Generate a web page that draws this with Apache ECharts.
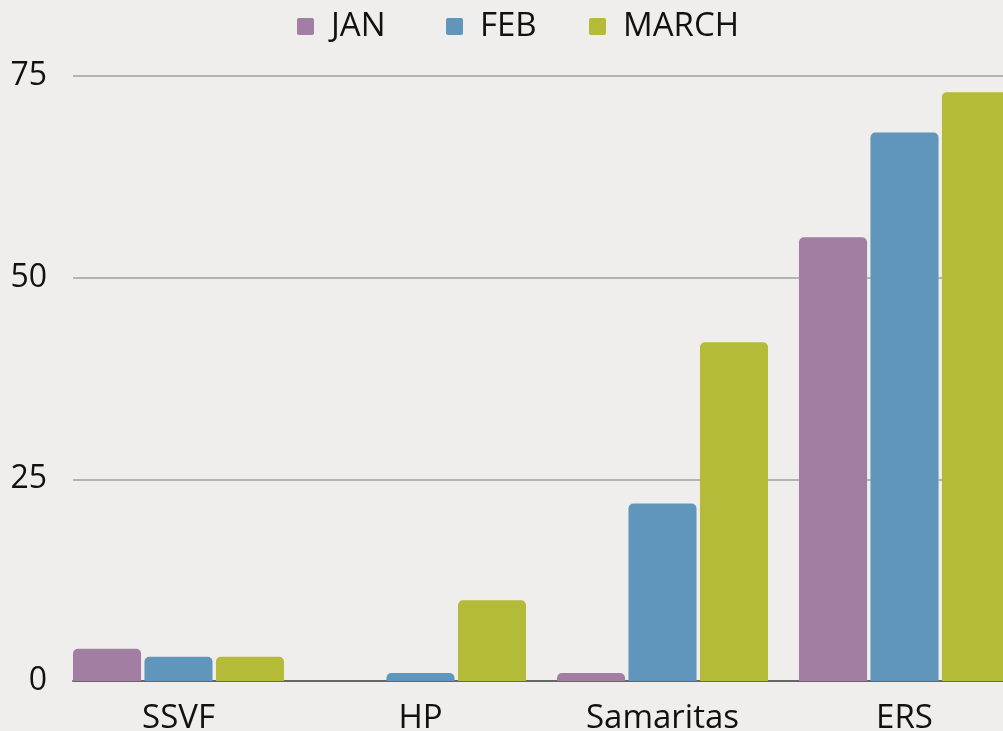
<!DOCTYPE html>
<html>
<head>
<meta charset="utf-8">
<script src="https://cdn.jsdelivr.net/npm/echarts@6/dist/echarts.min.js"></script>
<style>
html,body{margin:0;padding:0;background:#efeeec;}
#c{width:1003px;height:731px;}
</style>
</head>
<body>
<div id="c"></div>
<script>
const categories = ['SSVF', 'HP', 'Samaritas', 'ERS'];
const seriesNames = ['JAN', 'FEB', 'MARCH'];
const janValues = [4, 0, 1, 55];
const febValues = [3, 1, 22, 68];
const marchValues = [3, 10, 42, 73];
const yTicks = [0, 25, 50, 75];

const colors = ['#a27fa2', '#6096bb', '#b4bb38'];
const FONT = '"Open Sans", sans-serif';
const chart = echarts.init(document.getElementById('c'), null, {renderer: 'canvas'});

const values = [janValues, febValues, marchValues];
const legendLefts = [292, 441, 584];
const option = {
  backgroundColor: '#efeeec',
  animation: false,
  legend: seriesNames.map((n, i) => ({
    top: 5,
    left: legendLefts[i],
    itemWidth: 17,
    itemHeight: 17,
    icon: 'path://M2,0 L15,0 Q17,0 17,2 L17,15 Q17,17 15,17 L2,17 Q0,17 0,15 L0,2 Q0,0 2,0 Z',
    textStyle: {fontFamily: FONT, fontSize: 33, color: '#111', padding: [0, 0, 0, 12]},
    data: [n]
  })),
  grid: [
    {left: 73, right: 0, top: 76, bottom: 50, containLabel: false, outerBoundsMode: 'none'},
    {left: 57.5, width: 968, top: 76, bottom: 50, containLabel: false, outerBoundsMode: 'none'}
  ],
  xAxis: [
    {gridIndex: 0, type: 'category', data: categories,
     axisLine: {lineStyle: {color: '#666', width: 2}}, axisTick: {show: false}, axisLabel: {show: false}},
    {gridIndex: 1, type: 'category', data: categories,
     axisLine: {show: false}, axisTick: {show: false},
     axisLabel: {fontFamily: FONT, fontSize: 33, color: '#111', margin: 21}}
  ],
  yAxis: [
    {gridIndex: 0, type: 'value', min: yTicks[0], max: yTicks[yTicks.length - 1], interval: 25,
     axisLine: {show: false}, axisTick: {show: false},
     axisLabel: {fontFamily: FONT, fontSize: 32, color: '#111', margin: 26},
     splitLine: {lineStyle: {color: '#b3b3b3', width: 2}}},
    {gridIndex: 1, type: 'value', min: yTicks[0], max: yTicks[yTicks.length - 1], interval: 25,
     show: false, splitLine: {show: false}}
  ],
  series: seriesNames.map((n, i) => ({
    name: n,
    type: 'bar',
    xAxisIndex: 1,
    yAxisIndex: 1,
    data: values[i],
    barCategoryGap: '12.8%',
    barGap: '5%',
    itemStyle: {color: colors[i], borderRadius: [5, 5, 0, 0]}
  }))
};
chart.setOption(option);
</script>
</body>
</html>
